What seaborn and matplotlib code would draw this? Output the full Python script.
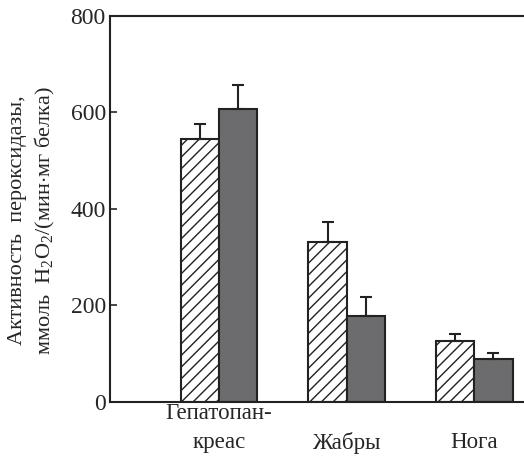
import pandas as pd
import matplotlib
matplotlib.use("Agg")
import matplotlib.pyplot as plt
import seaborn as sns

organs = ["Гепатопан-\nкреас", "\nЖабры", "\nНога"]
groups = ["A", "B"]
values_a = [545, 332, 127]
values_b = [607, 178, 89]
err_a = [31, 40, 13]
err_b = [49, 39, 12]

rows = []
for i, o in enumerate(organs):
    rows.append({"organ": o, "grp": "A", "val": values_a[i]})
    rows.append({"organ": o, "grp": "B", "val": values_b[i]})
df = pd.DataFrame(rows)

# render at dpi 140 so the hatch spacing matches; sizes below are scaled by S
DPI = 140
S = 100 / DPI

sns.set_style("ticks")
plt.rcParams["font.family"] = ["Liberation Serif", "DejaVu Serif"]
plt.rcParams["mathtext.fontset"] = "custom"
plt.rcParams["mathtext.rm"] = "Liberation Serif"
plt.rcParams["mathtext.it"] = "Liberation Serif:italic"
plt.rcParams["hatch.linewidth"] = 1.0 * S
plt.rcParams["hatch.color"] = "#444444"

fig = plt.figure(figsize=(524 / DPI, 456 / DPI), dpi=DPI)
ax = fig.add_axes([0.21, 0.1184, 0.8168, 0.8466])

sns.barplot(data=df, x="organ", y="val", hue="grp", hue_order=groups,
            palette={"A": "white", "B": "#6b6c70"}, width=0.6,
            edgecolor="#222222", linewidth=1.5 * S, errorbar=None, legend=False, ax=ax)

bars = ax.patches
for b in bars[:3]:
    b.set_hatch("////")
errs = err_a + err_b
for b, e in zip(bars[:6], errs):
    x = b.get_x() + b.get_width() / 2
    y = b.get_height()
    ax.errorbar(x, y, yerr=[[0], [e]], fmt="none", ecolor="#222222",
                elinewidth=1.5 * S, capsize=4 * S, capthick=1.5 * S)

ax.set_xlim(-0.855, 2.5)
ax.set_ylim(0, 800)
ax.set_yticks([0, 200, 400, 600, 800])
ax.tick_params(axis="y", direction="in", length=5 * S, width=1.2 * S,
               labelsize=17 * S, pad=3 * S)
ax.tick_params(axis="x", length=0, labelsize=16.5 * S, pad=1 * S)
for t in ax.get_xticklabels():
    t.set_linespacing(1.45)
ax.set_xlabel("")
ax.set_ylabel("Активность  пероксидазы,\nммоль  H$_2$O$_2$/(мин$\\cdot$мг белка)",
              fontsize=16 * S, linespacing=1.3)
ax.yaxis.set_label_coords(-0.125, 0.47)
for s in ["left", "top", "bottom"]:
    ax.spines[s].set_linewidth(1.5 * S)
    ax.spines[s].set_color("#222222")
ax.spines["right"].set_visible(False)

fig.savefig("out.png", dpi=DPI)
